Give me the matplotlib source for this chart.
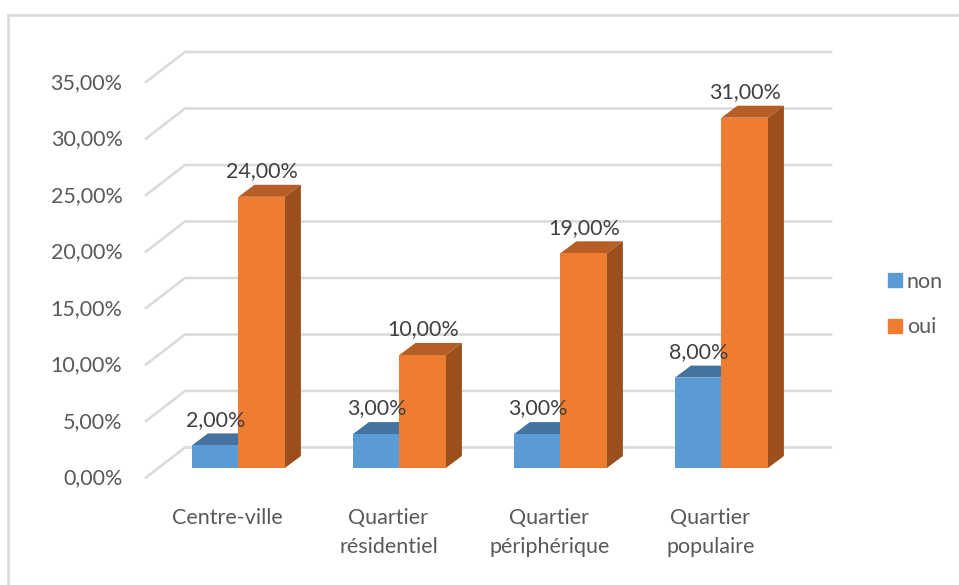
import numpy as np
import matplotlib
matplotlib.use('Agg')
import matplotlib.pyplot as plt
from matplotlib.patches import Patch, Polygon

categories = ['Centre-ville', 'Quartier\nrésidentiel', 'Quartier\npériphérique', 'Quartier\npopulaire']
non = [2, 3, 3, 8]
oui = [24, 10, 19, 31]
y_ticks = [0, 5, 10, 15, 20, 25, 30, 35]

plt.rcParams['font.family'] = ['Lato', 'DejaVu Sans']

# pixel scale of the picture: one category = 161 px, one percent = 11.3 px
PX_X = 161.0
PX_Y = 11.3
X0 = 238.4
Y0 = 468.0
W, H = 959, 585
FS = 15.5

fig = plt.figure(figsize=(W / 100, H / 100), dpi=100)
ax = fig.add_axes([0, 0, 1, 1])
ax.set_xlim(-X0 / PX_X, (W - X0) / PX_X)
ax.set_ylim((Y0 - H) / PX_Y, Y0 / PX_Y)
ax.axis('off')


def px(dx):
    return dx / PX_X


def py(dy):
    return dy / PX_Y


x = np.arange(len(categories))
bar_w = px(46.5)
depth_x = px(16)
depth_y = py(12)

# back wall gridlines and the slanted floor part
wall_left = px(185 - X0)
wall_right = px(831 - X0)
wall_y = py(20.5)
front_left = px(146 - X0)
front_y = py(-9.5)
for t in y_ticks:
    ax.plot([front_left, wall_left, wall_right], [t + front_y, t + wall_y, t + wall_y],
            color='#DBDBDB', lw=1.9, solid_joinstyle='miter', zorder=1)
    ax.text(px(122.5 - X0), t + front_y - py(1), f'{t},00%', ha='right', va='center',
            fontsize=FS, color='#595959')


def bar3d(left, val, front, top, side, z):
    ax.bar(left, val, bar_w, align='edge', color=front, lw=0, zorder=z + 0.2)
    r = left + bar_w
    ax.add_patch(Polygon([(left, val), (r, val), (r + depth_x, val + depth_y), (left + depth_x, val + depth_y)],
                         closed=True, fc=top, ec='none', zorder=z))
    ax.add_patch(Polygon([(r, 0), (r + depth_x, depth_y), (r + depth_x, val + depth_y), (r, val)],
                         closed=True, fc=side, ec='none', zorder=z))


for i in x:
    bar3d(i - bar_w, non[i], '#5B9BD5', '#44739F', '#3A6A94', 2 + i)
    bar3d(i, oui[i], '#EF7D31', '#B65E25', '#9A4F1C', 2.5 + i)

for i in x:
    ax.annotate(f'{non[i]},00%', (i - bar_w / 2, non[i]), xytext=(0.5, 18.5), textcoords='offset points',
                ha='center', va='center', fontsize=FS, color='#404040', zorder=10)
    ax.annotate(f'{oui[i]},00%', (i + bar_w / 2, oui[i]), xytext=(0.5, 18.5), textcoords='offset points',
                ha='center', va='center', fontsize=FS, color='#404040', zorder=10)
    ax.text(i - px(11), py(Y0 - 508), categories[i], ha='center', va='top', fontsize=FS,
            color='#595959', linespacing=1.57)

handles = [Patch(color='#5B9BD5', label='non'), Patch(color='#EF7D31', label='oui')]
ax.legend(handles=handles, loc='center left', bbox_to_anchor=(882 / W, 1 - 304.5 / H), frameon=False,
          fontsize=FS, labelcolor='#595959', handlelength=0.65, handleheight=0.65,
          handletextpad=0.2, labelspacing=1.2, borderpad=0.3, borderaxespad=0)

# outer chart border, only top and left are in the crop
ax.plot([px(8.5 - X0), px(8.5 - X0), px(W - X0)], [py(Y0 - H), py(Y0 - 15), py(Y0 - 15)],
        color='#DBDBDB', lw=1.9, solid_joinstyle='miter', zorder=1)

fig.savefig('out.png', dpi=100, facecolor='white')
